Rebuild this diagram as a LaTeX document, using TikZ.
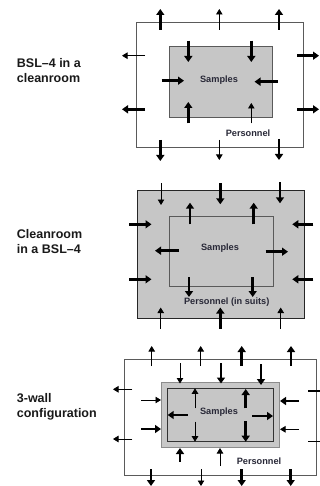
\documentclass[tikz,border=0pt]{standalone}
\usepackage{fontspec}
\setmainfont{Liberation Sans}
\usetikzlibrary{arrows.meta}
\definecolor{wallgray}{RGB}{198,198,198}
\definecolor{midgray}{RGB}{200,200,200}
\definecolor{edgegray}{RGB}{90,90,90}
\definecolor{txt}{RGB}{40,40,55}
\tikzset{
  thk/.style={line width=2.6pt, -{Triangle[length=6pt,width=8pt]}},
  thn/.style={line width=0.8pt, -{Triangle[length=5.5pt,width=6.5pt]}},
  thkline/.style={line width=2.6pt},
  thnline/.style={line width=0.8pt},
  wall/.style={draw=edgegray, line width=1pt},
  lbl/.style={font=\fontsize{12.5}{15}\selectfont\bfseries, text=black!90, align=left, anchor=west, inner sep=0pt},
  small/.style={font=\fontsize{9.2}{11}\selectfont\bfseries, text=txt, inner sep=0pt},
}
\begin{document}
\begin{tikzpicture}[x=1pt,y=-1pt]
\useasboundingbox (0,0) rectangle (320,486);
\fill[white] (0,0) rectangle (320,486);

% ---------- Panel 1 ----------
\node[lbl] (l1) at (16.7,71) {BSL--4 in a\\cleanroom};
\draw[wall] (136.7,22.3) rectangle (303.3,147.7);
\draw[wall, fill=wallgray] (169.7,47) rectangle (272.3,117.3);
\node[small] (s1) at (219,80) {Samples};
\node[small] (p1) at (248,133.3) {Personnel};
% top
\draw[thk] (160.3,30) -- (160.3,9);
\draw[thn] (219.3,30) -- (219.3,9);
\draw[thk] (279,30) -- (279,9);
% bottom
\draw[thk] (160.3,140) -- (160.3,161);
\draw[thn] (219.3,140) -- (219.3,160);
\draw[thk] (279,139) -- (279,160);
% left
\draw[thn] (145,55.7) -- (122,55.7);
\draw[thk] (145,109.3) -- (122,109.3);
% right
\draw[thk] (297.3,55.7) -- (319,55.7);
\draw[thk] (297.3,109.3) -- (319,109.3);
% inner
\draw[thk] (188.3,40.7) -- (188.3,62);
\draw[thk] (251.3,40.7) -- (251.3,62);
\draw[thk] (161.7,80.7) -- (184,80.7);
\draw[thk] (277.7,81.7) -- (254.5,81.7);
\draw[thk] (188.3,123.3) -- (188.3,102);
\draw[thn] (251.3,123.3) -- (251.3,103);

% ---------- Panel 2 ----------
\node[lbl] (l2) at (16.7,242) {Cleanroom\\in a BSL--4};
\draw[draw=black!85, line width=1pt, fill=wallgray] (137.3,190) rectangle (304.3,318.3);
\draw[wall] (169.7,216) rectangle (273,286.3);
\node[small] (s2) at (220,248.3) {Samples};
\node[small] (p2) at (226.7,302) {Personnel (in suits)};
% top down
\draw[thn] (161,183.3) -- (161,205);
\draw[thk] (220.3,183.3) -- (220.3,204.3);
\draw[thk] (280,182.3) -- (280,203.3);
% left/right
\draw[thk] (129.3,224.3) -- (151.5,224.3);
\draw[thk] (129.3,279.3) -- (151.5,279.3);
\draw[thk] (313.3,224.3) -- (292.3,224.3);
\draw[thk] (313.3,279.3) -- (292.3,279.3);
% inner
\draw[thk] (190,224.3) -- (190,202.7);
\draw[thk] (253.7,224.3) -- (253.7,202.7);
\draw[thk] (179,250.7) -- (155,250.7);
\draw[thk] (265.7,251.7) -- (288,251.7);
\draw[thk] (189,277.3) -- (189,297);
\draw[thk] (252.7,277.3) -- (252.7,297);
% bottom up
\draw[thn] (160.7,328.5) -- (160.7,307.5);
\draw[thk] (220.3,328.5) -- (220.3,307.5);
\draw[thn] (280.7,328.5) -- (280.7,307.5);

% ---------- Panel 3 ----------
\node[lbl] (l3) at (16.7,407) {3-wall\\configuration};
\draw[wall] (124.3,359) rectangle (316,475);
\draw[draw=gray!90, line width=1pt, fill=midgray] (161.7,382.3) rectangle (279.3,447.3);
\draw[draw=black!80, line width=1pt, fill=wallgray] (167.7,388) rectangle (273.3,441.7);
\node[small] (s3) at (219,411.7) {Samples};
\node[small] (p3) at (259,461.7) {Personnel};
% top up (outer)
\draw[thn] (151.7,366) -- (151.7,346);
\draw[thn] (200.7,366) -- (200.7,346);
\draw[thk] (241.7,366) -- (241.7,346);
\draw[thk] (291,366) -- (291,346);
% top down (into middle)
\draw[thn] (180,363.3) -- (180,383.5);
\draw[thk] (221,363.3) -- (221,383.5);
\draw[thk] (261,364) -- (261,385);
% left outer
\draw[thn] (132.3,389.3) -- (113,389.3);
\draw[thn] (132.3,439) -- (113,439);
% into middle from left
\draw[thn] (141,400) -- (161,400);
\draw[thk] (141,429) -- (161,429);
% into middle from right
\draw[thk] (299,401) -- (280,401);
\draw[thn] (299,429.3) -- (280,429.3);
% right edge (heads off picture)
\draw[thkline] (308.3,391) -- (320,391);
\draw[thnline] (308.3,441) -- (320,441);
% inner
\draw[thn] (195,408.3) -- (195,388.3);
\draw[thk] (245.7,408.3) -- (245.7,389);
\draw[thk] (187.7,415) -- (167.7,415);
\draw[thk] (252.3,416) -- (273,416);
\draw[thn] (195,421.7) -- (195,441.7);
\draw[thk] (245.7,421) -- (245.7,441.7);
% bottom up into middle
\draw[thk] (180,461.7) -- (180,448);
\draw[thn] (220,466) -- (220,448);
% bottom down outer
\draw[thk] (151,469.3) -- (151,486);
\draw[thn] (201,469.3) -- (201,486);
\draw[thk] (241.7,469.3) -- (241.7,486);
\draw[thk] (290.7,469.3) -- (290.7,486);
\end{tikzpicture}
\end{document}
